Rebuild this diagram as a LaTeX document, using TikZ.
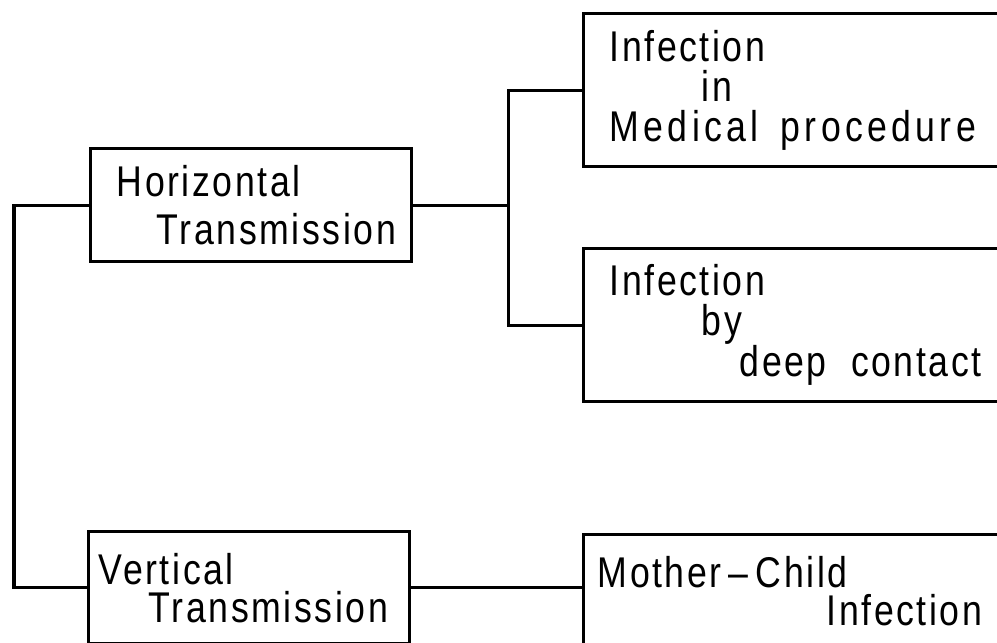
\documentclass[tikz,border=0pt]{standalone}
\usepackage{fontspec}
\newfontfamily\boxfont[FakeStretch=0.83,LetterSpace=6]{Liberation Sans}
\usetikzlibrary{positioning}

\begin{document}
\begin{tikzpicture}[x=1pt,y=-1pt,line width=3.4pt,
  box/.style={draw,rectangle,inner sep=0pt,align=left,anchor=north west,
    font=\boxfont\fontsize{43}{40}\selectfont}]
\path[use as bounding box,clip](0,0)rectangle(997,643);
\node[box,minimum width=321,minimum height=113,text width=321,
  font=\boxfont\fontsize{43}{48}\selectfont](hor)at(89,147)
  {\hspace*{26pt}Horizontal\\\hspace*{66pt}Transmission};
\node[box,minimum width=450,minimum height=153,text width=450](med)at(582,12)
  {\hspace*{26pt}Infection\\\hspace*{118pt}in\\
   \hspace*{26pt}{\addfontfeatures{LetterSpace=10}Medical\hspace*{8pt} procedure}};
\node[box,minimum width=450,minimum height=153,text width=450](deep)at(582,247)
  {\hspace*{26pt}Infection\\\hspace*{118pt}by\\\hspace*{156pt}deep\hspace*{10pt} contact};
\node[box,minimum width=321,minimum height=112,text width=321,
  font=\boxfont\fontsize{43}{38}\selectfont](vert)at(87,530)
  {\hspace*{10pt}Vertical\\\hspace*{60pt}Transmission};
\node[box,minimum width=450,minimum height=112,text width=450,
  font=\boxfont\fontsize{43}{38}\selectfont](moth)at(582,533)
  {\hspace*{14pt}Mother\,\textendash\,Child\\\hspace*{243pt}Infection};
\coordinate(lft)at(14,400);
\coordinate[right=95pt of hor.east](fork);
\draw(hor.west)--(hor.west-|lft)--(vert.west-|lft)--(vert.west);
\draw(hor.east)--(fork);
\draw(med.west)-|(fork)|-(deep.west);
\draw(vert.east)--(vert.east-|moth.west);
\end{tikzpicture}
\end{document}
